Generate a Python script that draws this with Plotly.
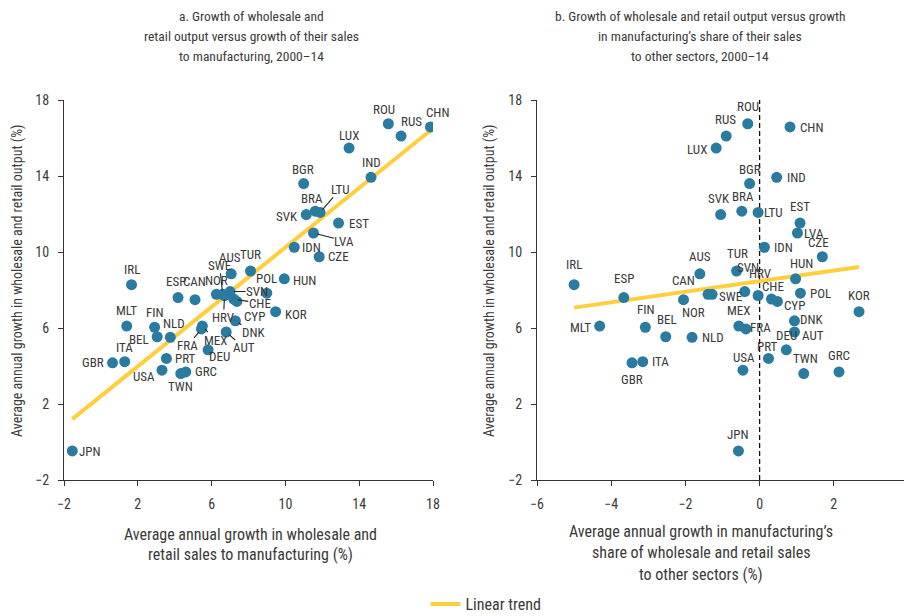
import numpy as np
import plotly.graph_objects as go

# ---------------- data ----------------
countries = ["ROU", "RUS", "CHN", "LUX", "IND", "BGR", "BRA", "LTU", "SVK", "EST",
             "LVA", "IDN", "CZE", "IRL", "HUN", "POL", "TUR", "AUS", "SWE", "ESP",
             "CAN", "NOR", "SVN", "CHE", "CYP", "HRV", "KOR", "DNK", "AUT", "DEU",
             "MEX", "FRA", "MLT", "FIN", "NLD", "BEL", "ITA", "GBR", "PRT", "USA",
             "TWN", "GRC", "JPN"]

# average annual growth in wholesale and retail output (%) - y in both panels
output_growth = [16.75, 16.10, 16.58, 15.47, 13.93, 13.60, 12.15, 12.08, 11.97, 11.52,
                 11.00, 10.25, 9.75, 8.28, 8.59, 7.83, 9.00, 8.85, 7.77, 7.60,
                 7.49, 7.77, 7.92, 7.52, 7.40, 7.71, 6.86, 6.38, 5.79, 4.85,
                 6.10, 5.95, 6.10, 6.04, 5.51, 5.54, 4.23, 4.17, 4.40, 3.78,
                 3.60, 3.69, -0.47]

# panel a x: growth in wholesale and retail sales to manufacturing (%)
sales_to_mfg = [15.58, 16.27, 17.86, 13.45, 14.64, 10.99, 11.62, 11.88, 11.13, 12.88,
                11.52, 10.48, 11.83, 1.66, 9.94, 8.99, 8.11, 7.06, 6.60, 4.18,
                5.10, 6.26, 7.00, 7.20, 7.37, 6.70, 9.47, 7.29, 6.79, 5.81,
                5.50, 5.45, 1.40, 2.91, 3.76, 3.05, 1.29, 0.63, 3.55, 3.31,
                4.33, 4.60, -1.55]

# panel b x: growth in manufacturing's share of sales to other sectors (%)
mfg_share = [-0.32, -0.90, 0.82, -1.17, 0.46, -0.27, -0.48, -0.04, -1.05, 1.09,
             1.02, 0.13, 1.69, -5.00, 0.97, 1.10, -0.62, -1.61, -1.28, -3.66,
             -2.05, -1.39, -0.40, 0.32, 0.48, -0.04, 2.68, 0.94, 0.94, 0.72,
             -0.56, -0.37, -4.31, -3.08, -1.82, -2.53, -3.15, -3.44, 0.24, -0.45,
             1.19, 2.14, -0.57]

y_ticks = [-2, 2, 6, 10, 14, 18]
xa_ticks = [-2, 2, 6, 10, 14, 18]
xb_ticks = [-6, -4, -2, 0, 2, 4]

title_a = ["a. Growth of wholesale and",
           "retail output versus growth of their sales",
           "to manufacturing, 2000\u201314"]
title_b = ["b. Growth of wholesale and retail output versus growth",
           "in manufacturing\u2019s share of their sales",
           "to other sectors, 2000\u201314"]
xtitle_a = ["Average annual growth in wholesale and",
            "retail sales to manufacturing (%)"]
xtitle_b = ["Average annual growth in manufacturing\u2019s",
            "share of wholesale and retail sales",
            "to other sectors (%)"]
ytitle = "Average annual growth in wholesale and retail output (%)"
legend_name = "Linear trend"

# ---------------- styles ----------------
FONT = "Roboto Condensed, Liberation Sans Narrow, Arial Narrow, DejaVu Sans Condensed, sans-serif"
TXT = "#3a3a3a"
AX = "#333333"
DOT = "#2b7ba0"
TREND = "#ffcf3f"

# label placement (xanchor, dx, dy) in pixels from the dot centre; dy down
place_a = {
    "ROU": ("center", -4, -14), "RUS": ("center", 10, -15), "CHN": ("center", 8, -14),
    "LUX": ("center", 0, -13), "IND": ("center", 0, -15), "BGR": ("center", -1, -14),
    "BRA": ("center", -3, -13), "SVK": ("right", -6, 2), "EST": ("left", 8, 0),
    "IDN": ("left", 6, 0), "CZE": ("left", 7, 0), "IRL": ("center", 0, -15),
    "HUN": ("left", 7, 2), "POL": ("center", 0, -15), "TUR": ("center", 0, -17),
    "AUS": ("center", -1, -16), "ESP": ("center", -2, -16), "CAN": ("center", 0, -18),
    "NOR": ("center", 0, -14), "KOR": ("left", 7, 3), "DEU": ("center", 11, 7),
    "MLT": ("center", 0, -16), "FIN": ("center", 0, -15), "NLD": ("center", 4, -14),
    "BEL": ("right", -6, 3), "ITA": ("center", 0, -14), "GBR": ("right", -7, 0),
    "PRT": ("left", 7, 0), "USA": ("right", -5, 6), "TWN": ("center", 0, 13),
    "GRC": ("left", 7, 0), "JPN": ("left", 5, 1),
}
# labels with leader lines: (ax, ay) = text centre offset from dot
leader_a = {
    "LTU": (20, -23), "LVA": (31, 8), "SVN": (27, 0), "CHE": (26, 4), "CYP": (18, 15),
    "HRV": (-1, 22), "DNK": (18, 12), "AUT": (18, 16), "MEX": (13, 14),
    "FRA": (-14, 17), "SWE": (-3, -29),
}
place_b = {
    "ROU": ("center", 0, -17), "RUS": ("center", -1, -17), "LUX": ("right", -7, 1),
    "CHN": ("left", 8, 1), "BGR": ("center", 0, -14), "IND": ("left", 8, 0),
    "SVK": ("center", -2, -16), "BRA": ("center", 1, -15), "LTU": ("left", 4, 0),
    "EST": ("center", 0, -17), "LVA": ("left", 5, 0), "IDN": ("left", 8, 0),
    "CZE": ("center", -4, -14), "IRL": ("center", 0, -20), "ESP": ("center", 0, -19),
    "CAN": ("center", 0, -19), "AUS": ("center", 0, -17), "TUR": ("center", 1, -18),
    "SVN": ("center", 3, -24), "HRV": ("center", 2, -22), "CHE": ("center", 2, -13),
    "CYP": ("left", 5, 4), "HUN": ("center", 6, -15), "POL": ("left", 8, 0),
    "KOR": ("center", 0, -16), "SWE": ("left", 5, 2), "NOR": ("center", -15, 18),
    "MEX": ("center", 0, -16), "FRA": ("left", 2, -1), "MLT": ("right", -7, 1),
    "FIN": ("center", 1, -18), "BEL": ("center", 1, -17), "NLD": ("left", 8, 0),
    "DNK": ("left", 4, -1), "DEU": ("center", 0, -14), "AUT": ("left", 6, 4),
    "PRT": ("center", -1, -12), "USA": ("center", 1, -13), "TWN": ("center", 2, -15),
    "GRC": ("center", 0, -16), "ITA": ("left", 7, 0), "GBR": ("center", 0, 17),
    "JPN": ("center", 0, -16),
}

# the page body has an 8px margin, so screen px = figure px + 8
OFF = 8
W, H = 904, 608


def px(sx):
    return (sx - OFF) / W


def py(sy):
    return 1 - (sy - OFF) / H


dom_xa = [px(64), px(433)]
dom_xb = [px(537), px(908)]
dom_y = [py(480), py(100)]

fig = go.Figure()


def add_trend(x, y, xref, yref, show):
    x = np.asarray(x)
    y = np.asarray(y)
    b, a = np.polyfit(x, y, 1)
    xs = np.array([x.min(), x.max()])
    fig.add_trace(go.Scatter(x=xs, y=a + b * xs, mode="lines",
                             line=dict(color=TREND, width=4),
                             name=legend_name, showlegend=show,
                             xaxis=xref, yaxis=yref, hoverinfo="skip"))


add_trend(sales_to_mfg, output_growth, "x", "y", True)
add_trend(mfg_share, output_growth, "x2", "y2", False)

for xs, xr, yr in [(sales_to_mfg, "x", "y"), (mfg_share, "x2", "y2")]:
    fig.add_trace(go.Scatter(x=xs, y=output_growth, mode="markers", text=countries,
                             marker=dict(color=DOT, size=11, line=dict(width=0)),
                             showlegend=False, xaxis=xr, yaxis=yr))

annotations = []
lab_font = dict(family=FONT, size=13, color=TXT)
for i, c in enumerate(countries):
    xa, ya = sales_to_mfg[i], output_growth[i]
    if c in leader_a:
        ax, ay = leader_a[c]
        annotations.append(dict(x=xa, y=ya, xref="x", yref="y", text=c, showarrow=True,
                                ax=ax, ay=ay, arrowhead=0, arrowwidth=1.1,
                                arrowcolor="#222222", standoff=4, font=lab_font,
                                borderpad=0))
    else:
        anc, dx, dy = place_a[c]
        annotations.append(dict(x=xa, y=ya, xref="x", yref="y", text=c, showarrow=False,
                                xanchor=anc, yanchor="middle", xshift=dx, yshift=-dy,
                                font=lab_font))
    anc, dx, dy = place_b[c]
    annotations.append(dict(x=mfg_share[i], y=ya, xref="x2", yref="y2", text=c,
                            showarrow=False, xanchor=anc, yanchor="middle",
                            xshift=dx, yshift=-dy, font=lab_font))


def lines_at(lines, cx, cy0, step, size):
    for k, t in enumerate(lines):
        annotations.append(dict(x=px(cx), y=py(cy0 + k * step), xref="paper",
                                yref="paper", text=t, showarrow=False,
                                xanchor="center", yanchor="middle", borderpad=0,
                                font=dict(family=FONT, size=size, color=TXT)))


lines_at(title_a, 251, 16.5, 19.5, 13.5)
lines_at(title_b, 700, 16.5, 19.5, 13.5)
lines_at(xtitle_a, 250, 534, 20.5, 16)
lines_at(xtitle_b, 701, 531, 21.5, 16)
for cx in (17, 489):
    annotations.append(dict(x=px(cx), y=py(281), xref="paper", yref="paper",
                            text=ytitle, showarrow=False, textangle=-90,
                            xanchor="center", yanchor="middle", borderpad=0,
                            font=dict(family=FONT, size=14, color=TXT)))

axis_common = dict(showline=True, linecolor=AX, linewidth=1.2, ticks="outside",
                   ticklen=5, tickcolor=AX, tickwidth=1.2, showgrid=False,
                   zeroline=False, tickfont=dict(family=FONT, size=14, color=TXT),
                   ticklabelstandoff=6, automargin=False)

fig.update_layout(
    template="none",
    width=W, height=H, margin=dict(l=0, r=0, t=0, b=0, pad=0, autoexpand=False),
    paper_bgcolor="white", plot_bgcolor="white",
    xaxis=dict(domain=dom_xa, range=[-2, 18], tickvals=xa_ticks, anchor="y", **axis_common),
    yaxis=dict(domain=dom_y, range=[-2, 18], tickvals=y_ticks, anchor="x", **axis_common),
    xaxis2=dict(domain=dom_xb, range=[-6, 4], tickvals=xb_ticks, anchor="y2", **axis_common),
    yaxis2=dict(domain=dom_y, range=[-2, 18], tickvals=y_ticks, anchor="x2", **axis_common),
    annotations=annotations,
    shapes=[dict(type="line", xref="x2", yref="y2", x0=0, x1=0, y0=-2, y1=18,
                 line=dict(color="#111111", width=1.3, dash="5px,3px"), layer="below")],
    showlegend=True,
    legend=dict(orientation="h", x=px(486), y=py(604), xanchor="center",
                yanchor="middle", font=dict(family=FONT, size=16, color=TXT),
                bgcolor="rgba(0,0,0,0)"),
    hovermode="closest",
)

fig.write_html("out.html")
